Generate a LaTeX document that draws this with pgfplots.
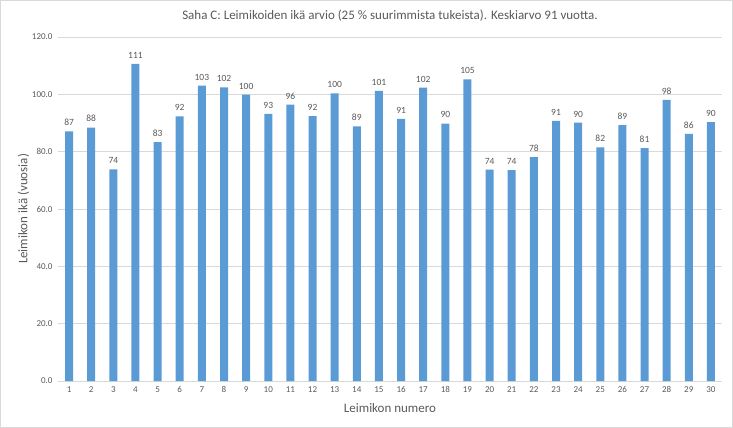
\documentclass[border=0pt]{standalone}
\usepackage{pgfplots}
\pgfplotsset{compat=1.18}
\usepackage{fontspec}
\setmainfont{Carlito}
\definecolor{barblue}{HTML}{5B9BD5}
\definecolor{txtgray}{HTML}{595959}
\definecolor{gridgray}{HTML}{D9D9D9}
\begin{document}
\begin{tikzpicture}[x=1pt,y=1pt]
\draw[gridgray, line width=1.2pt] (0.6,0.6) rectangle (732.4,427.4);
\path[use as bounding box] (0,0) rectangle (733,428);
\begin{axis}[
    at={(58pt,47pt)}, anchor=south west,
    scale only axis,
    width=664pt, height=344pt,
    ybar, bar width=8pt,
    xmin=0.5, xmax=30.5,
    ymin=0, ymax=120,
    xtick={1,...,30},
    ytick={0,20,...,120},
    yticklabel style={/pgf/number format/fixed, /pgf/number format/fixed zerofill, /pgf/number format/precision=1, xshift=-2pt},
    /pgf/number format/assume math mode=true,
    tick label style={font=\fontsize{9}{10}\selectfont, text=txtgray},
    ymajorgrids, grid style={gridgray, line width=0.8pt},
    axis x line*=bottom, axis y line*=left,
    x axis line style={gridgray, line width=0.8pt, -},
    y axis line style={draw=none},
    major tick length=0pt,
    xticklabel style={yshift=-2pt},
    nodes near coords={\pgfmathprintnumber[fixed, precision=0]{\pgfplotspointmeta}},
    nodes near coords style={font=\fontsize{9.5}{10}\selectfont, text=txtgray, yshift=2pt},
    xlabel={Leimikon numero},
    ylabel={Leimikon ikä (vuosia)},
    xlabel style={font=\fontsize{13}{14}\selectfont, text=txtgray, yshift=-4pt},
    ylabel style={font=\fontsize{13}{14}\selectfont, text=txtgray, yshift=-4pt},
    title={Saha C: Leimikoiden ikä arvio (25 \% suurimmista tukeista). Keskiarvo 91 vuotta.},
    title style={font=\fontsize{13}{14}\selectfont, text=txtgray, yshift=6pt},
]
\addplot[fill=barblue, draw=none] coordinates {
(1,87.1) (2,88.4) (3,73.8) (4,110.6) (5,83.3) (6,92.3) (7,103.0) (8,102.4) (9,99.9) (10,93.2)
(11,96.4) (12,92.4) (13,100.3) (14,88.8) (15,101.2) (16,91.4) (17,102.3) (18,89.8) (19,105.2) (20,73.7)
(21,73.6) (22,78.1) (23,90.7) (24,90.1) (25,81.5) (26,89.3) (27,81.2) (28,98.1) (29,86.2) (30,90.3)
};
\end{axis}
\end{tikzpicture}
\end{document}
